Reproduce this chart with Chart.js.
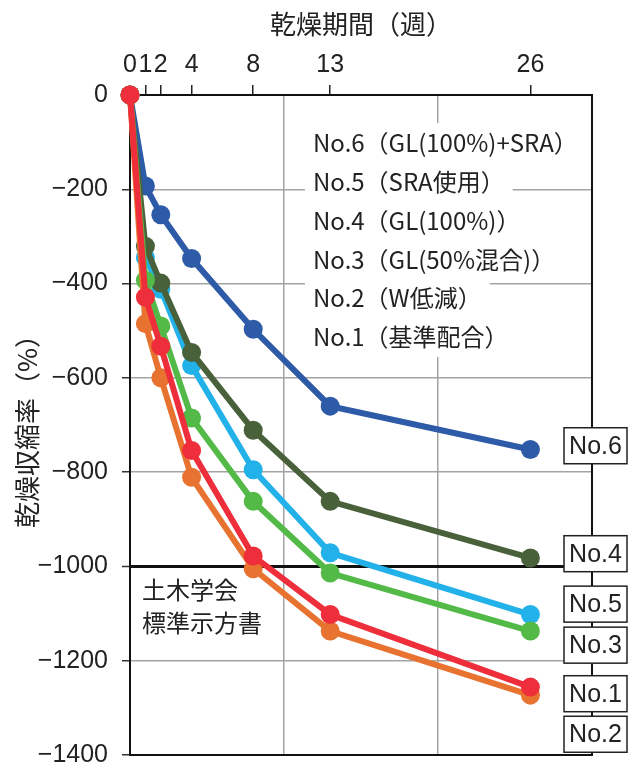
<!DOCTYPE html>
<html lang="ja">
<head>
<meta charset="utf-8">
<title>乾燥収縮率</title>
<script src="https://cdn.jsdelivr.net/npm/chart.js@4.4.1/dist/chart.umd.min.js"></script>
<style>
  html, body { margin: 0; padding: 0; background: #fff; }
  #wrap { width: 633px; height: 766px; }
</style>
</head>
<body>
<div id="wrap"><canvas id="chart" width="633" height="766"></canvas></div>
<script>
    "use strict";

    // 乾燥期間（週）
    var weeks = [0, 1, 2, 4, 8, 13, 26];
    var weekTicks = [0, 1, 2, 4, 8, 13, 26];
    var weekGrid = [10, 20];

    // 乾燥収縮率 (×10^-6)
    var no1 = [0, -429, -533, -754, -978, -1102, -1256];
    var no2 = [0, -485, -600, -811, -1005, -1137, -1273];
    var no3 = [0, -393, -490, -685, -862, -1014, -1137];
    var no4 = [0, -321, -399, -546, -711, -862, -982];
    var no5 = [0, -345, -412, -574, -795, -971, -1102];
    var no6 = [0, -193, -254, -347, -497, -660, -752];

    var seriesNames = ['No.1', 'No.2', 'No.3', 'No.4', 'No.5', 'No.6'];
    var seriesValues = [no1, no2, no3, no4, no5, no6];
    var seriesColors = ['#ee2e3a', '#e8722f', '#53b947', '#49613a', '#22b1e8', '#2e5ba8'];

    var legendLines = [
        'No.6（GL(100%)+SRA）',
        'No.5（SRA使用）',
        'No.4（GL(100%)）',
        'No.3（GL(50%混合)）',
        'No.2（W低減）',
        'No.1（基準配合）'
    ];
    var noteLines = ['土木学会', '標準示方書'];
    var standardLine = -1000;

    // end label boxes, in axis units (shifted so they do not overlap)
    var endLabelNames = ['No.6', 'No.4', 'No.5', 'No.3', 'No.1', 'No.2'];
    var endLabelAt = [-744, -973, -1080, -1167, -1270, -1356];

    var tickFont = { family: '"Liberation Sans", Arial, sans-serif', size: 25 };
    var jpFont = '"Noto Sans CJK JP", "Noto Sans", sans-serif';

    function toPoints(values) {
        return values.map(function (v, i) { return { x: weeks[i], y: v }; });
    }

    var datasets = seriesNames.map(function (name, i) {
        return {
            label: name,
            data: toPoints(seriesValues[i]),
            borderColor: seriesColors[i],
            backgroundColor: seriesColors[i],
            pointBackgroundColor: seriesColors[i],
            pointBorderWidth: 0,
            pointRadius: 9.5,
            borderWidth: 6,
            tension: 0,
            clip: false
        };
    });

    // frame, legend block and note
    var overlay = {
        id: 'overlay',
        beforeDatasetsDraw: function (chart) {
            var ctx = chart.ctx, a = chart.chartArea;
            ctx.save();
            ctx.strokeStyle = '#111';
            ctx.lineWidth = 2;
            ctx.strokeRect(a.left, a.top, a.right - a.left, a.bottom - a.top);

            ctx.font = '24px ' + jpFont;
            ctx.textBaseline = 'middle';
            ctx.textAlign = 'left';
            legendLines.forEach(function (t, i) {
                var cy = 143 + i * 38.8;
                var w = ctx.measureText(t).width;
                ctx.fillStyle = '#fff';
                ctx.fillRect(305, cy - 20, w + 16, 40);
                ctx.fillStyle = '#222';
                ctx.fillText(t, 313, cy);
            });

            ctx.font = '24px ' + jpFont;
            noteLines.forEach(function (t, i) {
                ctx.fillText(t, 142, 590 + i * 33);
            });
            ctx.restore();
        },
        afterDatasetsDraw: function (chart) {
            var ctx = chart.ctx, y = chart.scales.y;
            ctx.save();
            ctx.font = '25px "Liberation Sans", Arial, sans-serif';
            ctx.textAlign = 'center';
            ctx.textBaseline = 'middle';
            endLabelNames.forEach(function (t, i) {
                var cy = y.getPixelForValue(endLabelAt[i]);
                ctx.fillStyle = '#fff';
                ctx.fillRect(564, cy - 18, 63, 36);
                ctx.strokeStyle = '#222';
                ctx.lineWidth = 1.5;
                ctx.strokeRect(564, cy - 18, 63, 36);
                ctx.fillStyle = '#222';
                ctx.fillText(t, 595.5, cy + 1);
            });
            ctx.restore();
        }
    };

    var ctx = document.getElementById('chart').getContext('2d');
    var myChart = new Chart(ctx, {
        type: 'line',
        data: { datasets: datasets },
        options: {
            responsive: false,
            animation: false,
            devicePixelRatio: 1,
            layout: { padding: { left: 0, top: 0, right: 41, bottom: 11 } },
            plugins: {
                legend: { display: false },
                tooltip: { enabled: false }
            },
            scales: {
                x: {
                    type: 'linear',
                    position: 'top',
                    min: 0,
                    max: 30,
                    afterFit: function (scale) {
                        scale.height = 95;
                        scale.paddingLeft = 0;
                        scale.paddingRight = 0;
                    },
                    afterBuildTicks: function (scale) {
                        var vals = weekTicks.concat(weekGrid, [30]);
                        vals.sort(function (a, b) { return a - b; });
                        scale.ticks = vals.map(function (v) { return { value: v }; });
                    },
                    border: { display: false },
                    grid: {
                        tickLength: 10,
                        tickWidth: 1.5,
                        lineWidth: 1.5,
                        color: function (c) {
                            return weekGrid.indexOf(c.tick.value) >= 0 ? '#a3a3a3' : 'rgba(0,0,0,0)';
                        },
                        tickColor: function (c) {
                            return weekTicks.indexOf(c.tick.value) >= 0 ? '#222' : 'rgba(0,0,0,0)';
                        }
                    },
                    ticks: {
                        autoSkip: false,
                        maxRotation: 0,
                        padding: 5,
                        color: '#222',
                        font: tickFont,
                        callback: function (v) {
                            return weekTicks.indexOf(v) >= 0 ? String(v) : '';
                        }
                    },
                    title: {
                        display: true,
                        text: '乾燥期間（週）',
                        color: '#222',
                        font: { family: jpFont, size: 26 },
                        padding: { top: 9, bottom: 0 }
                    }
                },
                y: {
                    type: 'linear',
                    min: -1400,
                    max: 0,
                    afterFit: function (scale) {
                        scale.width = 130;
                        scale.paddingTop = 0;
                        scale.paddingBottom = 0;
                    },
                    border: { display: false },
                    grid: {
                        tickLength: 8,
                        tickWidth: 1.5,
                        tickColor: '#333',
                        lineWidth: function (c) {
                            return c.tick.value === standardLine ? 3 : 1.5;
                        },
                        color: function (c) {
                            var v = c.tick.value;
                            if (v === standardLine) return '#111';
                            if (v === 0 || v === -1400) return 'rgba(0,0,0,0)';
                            return '#a3a3a3';
                        }
                    },
                    ticks: {
                        stepSize: 200,
                        padding: 14,
                        color: '#222',
                        font: tickFont,
                        callback: function (v) {
                            return String(v).replace('-', '\u2212');
                        }
                    },
                    title: {
                        display: true,
                        text: '乾燥収縮率（%）',
                        color: '#222',
                        font: { family: jpFont, size: 26 },
                        padding: { top: 12, bottom: 0 }
                    }
                }
            }
        },
        plugins: [overlay]
    });
</script>
</body>
</html>
